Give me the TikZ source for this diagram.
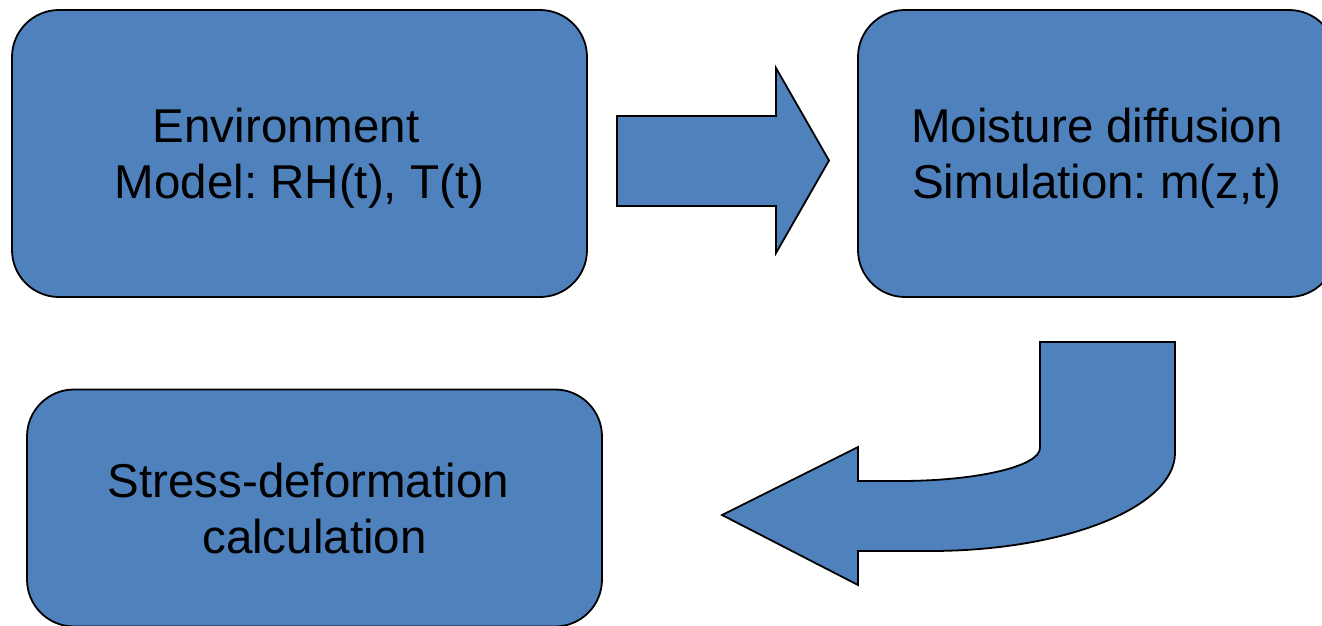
\documentclass[tikz,border=0pt]{standalone}
\usepackage{fontspec}
\setmainfont{Liberation Sans}
\frenchspacing
\definecolor{boxblue}{HTML}{4F81BD}
\tikzset{
  box/.style={draw=black, line width=1.8pt, fill=boxblue, rounded corners=47pt,
    align=center, text depth=0pt, inner sep=0pt,
    font=\fontsize{47.5}{56}\selectfont\frenchspacing},
  blockarrow/.style={draw=black, line width=1.8pt, fill=boxblue, line join=miter}
}
\begin{document}
\begin{tikzpicture}[x=1pt,y=-1pt]
\useasboundingbox (0,0) rectangle (1322,626);
\begin{scope}
\clip (0,0) rectangle (1322,626);
\node[box, minimum width=575pt, minimum height=287pt] (env) at (299.5,153.5)
  {Environment\hspace*{0.56em}\\Model: RH(t), T(t)};
\node[box, minimum width=478pt, minimum height=287pt] (moist) at (1097,153.5)
  {Moisture diffusion\\Simulation: m(z,t)};
\node[box, minimum width=575pt, minimum height=237pt] (stress) at (314.5,508)
  {Stress-deformation\hspace*{0.26em}\\calculation};
% right block arrow
\draw[blockarrow] (617,116) -- (776,116) -- (776,68) -- (829,160.5) -- (776,253)
  -- (776,206) -- (617,206) -- cycle;
% bent (u-turn) block arrow
\draw[blockarrow] (1040,342) -- (1175,342) -- (1175,453)
  .. controls (1175,507.1) and (1065.3,551) .. (930,551)
  -- (858,551) -- (858,585) -- (722,515) -- (858,447) -- (858,481) -- (900,481)
  .. controls (977.3,481) and (1040,466.2) .. (1040,448) -- cycle;
\end{scope}
\end{tikzpicture}
\end{document}
